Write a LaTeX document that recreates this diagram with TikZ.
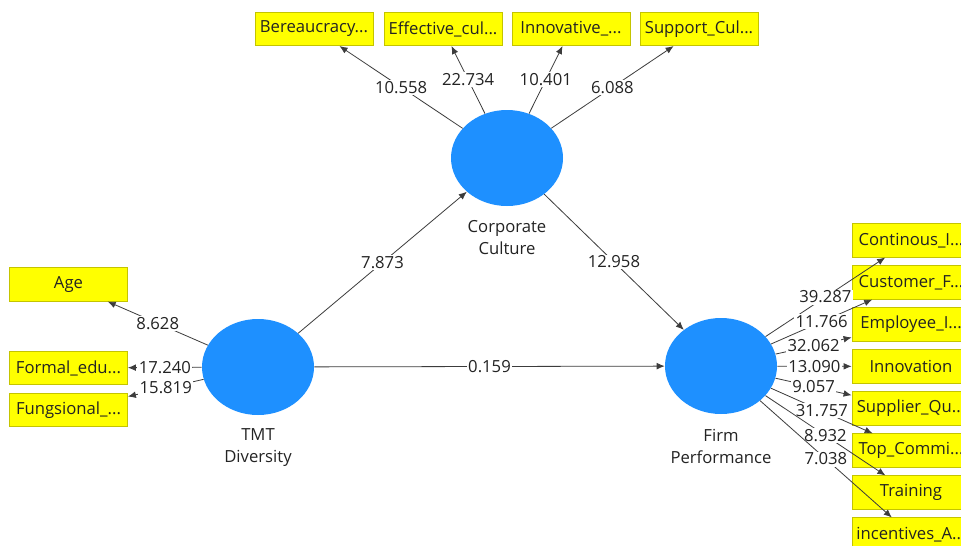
\documentclass[tikz,border=0pt]{standalone}
\usepackage{fontspec}
\setmainfont{Open Sans}
\usepackage{tikz}
\usetikzlibrary{shapes.geometric,arrows.meta}

\definecolor{lvblue}{RGB}{30,144,255}
\definecolor{indyellow}{RGB}{255,255,0}
\definecolor{indborder}{RGB}{196,196,0}
\definecolor{lnkgray}{RGB}{60,60,60}
\definecolor{txtdark}{RGB}{35,35,35}

\tikzset{
  latent/.style={ellipse,fill=lvblue,draw=none,minimum width=84pt,minimum height=72pt},
  indicator/.style={rectangle,fill=indyellow,draw=indborder,line width=0.6pt,minimum width=88.5pt,minimum height=25pt,inner sep=1pt,font=\fontsize{12.5}{15}\selectfont,text=txtdark},
  lvname/.style={align=center,inner sep=0pt,font=\fontsize{12.5}{16.5}\selectfont,text=txtdark},
  lnk/.style={draw=lnkgray,line width=0.6pt,-{Latex[length=6pt,width=5pt]}},
  coef/.style={fill=white,inner sep=1pt,font=\fontsize{12.5}{15}\selectfont,text=txtdark}
}

\begin{document}
\begin{tikzpicture}[x=0.75pt,y=0.75pt,yscale=-1,xscale=1]

\clip (0,0) rectangle (961,546);
\fill[white] (0,0) rectangle (961,546);

% latent variables
\node[latent] (cc) at (507,158) {};
\node[latent] (tmt) at (258,367) {};
\node[latent] (fp) at (721,366) {};

\node[lvname] (cclbl) at (507,238) {Corporate\\Culture};
\node[lvname] (tmtlbl) at (258,448) {TMT\\Diversity};
\node[lvname] (fplbl) at (721,446) {Firm\\Performance};

% indicators of corporate culture
\node[indicator] (ber) at (314,29) {Bereaucracy...};
\node[indicator] (eff) at (443,29) {Effective\_cul...};
\node[indicator] (inno) at (571,29) {Innovative\_...};
\node[indicator] (supc) at (699,29) {Support\_Cul...};

% indicators of tmt diversity
\node[indicator] (age) at (68.5,284.5) {Age};
\node[indicator] (form) at (68.5,368) {Formal\_edu...};
\node[indicator] (fung) at (68.5,410) {Fungsional\_...};

% indicators of firm performance
\node[indicator] (cont) at (911,240.5) {Continous\_I...};
\node[indicator] (cust) at (911,282.5) {Customer\_F...};
\node[indicator] (empl) at (911,324.5) {Employee\_I...};
\node[indicator] (innov) at (911,366.5) {Innovation};
\node[indicator] (supp) at (911,408.5) {Supplier\_Qu...};
\node[indicator] (topc) at (911,450.5) {Top\_Commi...};
\node[indicator] (train) at (911,492.5) {Training};
\node[indicator] (incent) at (911,534.5) {incentives\_A...};

% inner model
\draw[lnk] (tmt) -- node[coef] {7.873} (cc);
\draw[lnk] (cc) -- node[coef] {12.958} (fp);
\draw[lnk] (tmt) -- node[coef] {0.159} (fp);

% outer model
\draw[lnk] (cc) -- node[coef] {10.558} (ber);
\draw[lnk] (cc) -- node[coef] {22.734} (eff);
\draw[lnk] (cc) -- node[coef] {10.401} (inno);
\draw[lnk] (cc) -- node[coef] {6.088} (supc);

\draw[lnk] (tmt) -- node[coef] {8.628} (age);
\draw[lnk] (tmt) -- node[coef] {17.240} (form);
\draw[lnk] (tmt) -- node[coef] {15.819} (fung);

\draw[lnk] (fp) -- node[coef] {39.287} (cont);
\draw[lnk] (fp) -- node[coef] {11.766} (cust);
\draw[lnk] (fp) -- node[coef] {32.062} (empl);
\draw[lnk] (fp) -- node[coef] {13.090} (innov);
\draw[lnk] (fp) -- node[coef] {9.057} (supp);
\draw[lnk] (fp) -- node[coef] {31.757} (topc);
\draw[lnk] (fp) -- node[coef] {8.932} (train);
\draw[lnk] (fp) -- node[coef] {7.038} (incent);

\end{tikzpicture}
\end{document}
